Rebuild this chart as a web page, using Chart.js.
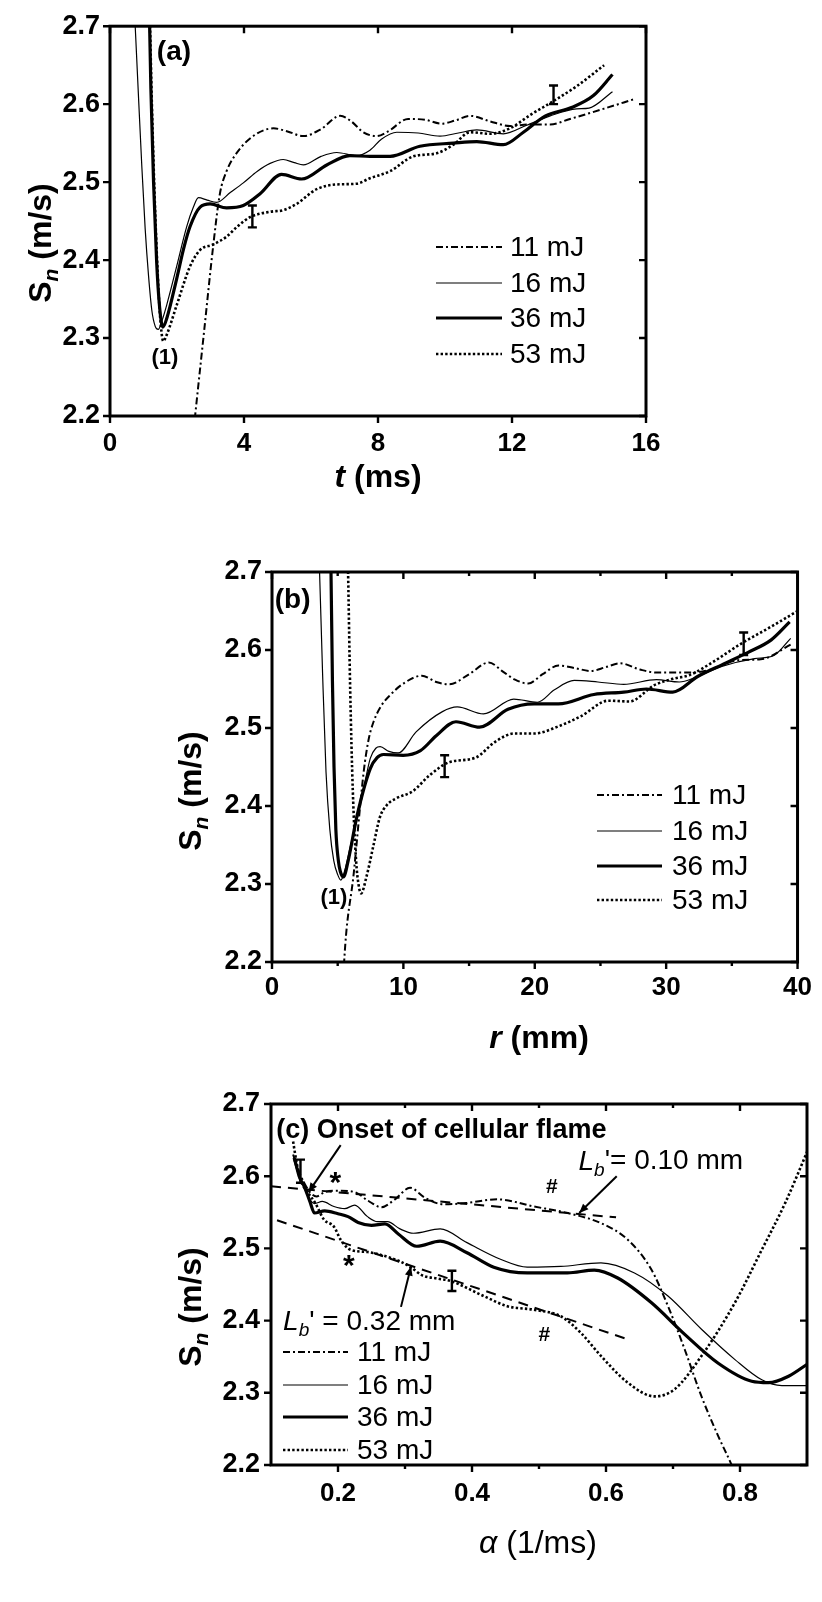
<!DOCTYPE html>
<html><head><meta charset="utf-8">
<script src="https://cdn.jsdelivr.net/npm/chart.js@4.4.1/dist/chart.umd.min.js"></script>
<style>
html,body{margin:0;padding:0;background:#fff;}
#wrap{position:relative;width:822px;height:1602px;background:#fff;}
canvas{position:absolute;left:0;}
</style></head><body>
<div id="wrap">
<canvas id="ca" width="822" height="510" style="top:0px"></canvas>
<canvas id="cb" width="822" height="560" style="top:510px"></canvas>
<canvas id="cc" width="822" height="532" style="top:1070px"></canvas>
</div>
<script>
// ---------- DATA ----------
const seriesNames = ['11 mJ', '16 mJ', '36 mJ', '53 mJ'];
const yTickVals = [2.2, 2.3, 2.4, 2.5, 2.6, 2.7];

// (a) S_n vs t (ms)
const xTicksA = [0, 4, 8, 12, 16];
const a11 = [[2.3,2.10],[2.54,2.2],[2.8,2.305],[3.08,2.418],[3.28,2.485],[3.48,2.514],[3.68,2.531],[4.18,2.556],[4.88,2.569],[5.3,2.565],[5.77,2.559],[6.3,2.568],[6.87,2.585],[7.2,2.578],[7.56,2.564],[7.96,2.559],[8.3,2.565],[8.9,2.581],[9.4,2.580],[9.9,2.575],[10.3,2.579],[10.75,2.585],[11.34,2.578],[11.94,2.572],[12.54,2.574],[13.14,2.574],[13.73,2.581],[14.73,2.594],[15.62,2.606]];
const a16 = [[0.72,2.73],[0.85,2.61],[0.95,2.52],[1.05,2.44],[1.15,2.38],[1.25,2.335],[1.35,2.315],[1.44,2.311],[1.55,2.322],[1.69,2.342],[1.99,2.392],[2.29,2.443],[2.49,2.468],[2.64,2.480],[2.9,2.477],[3.18,2.474],[3.6,2.487],[3.98,2.499],[4.4,2.514],[4.78,2.524],[5.17,2.529],[5.5,2.525],[5.77,2.522],[6.3,2.533],[6.77,2.538],[7.36,2.534],[7.76,2.541],[8.1,2.555],[8.56,2.564],[9.2,2.563],[9.85,2.559],[10.4,2.563],[10.95,2.567],[11.74,2.562],[12.44,2.573],[13.14,2.585],[13.93,2.594],[14.3,2.595],[15.0,2.616]];
const a36 = [[1.17,2.73],[1.22,2.62],[1.3,2.50],[1.39,2.40],[1.48,2.34],[1.58,2.314],[1.7,2.326],[1.99,2.376],[2.2,2.415],[2.39,2.443],[2.69,2.468],[2.99,2.472],[3.48,2.467],[3.98,2.470],[4.48,2.485],[5.12,2.510],[5.72,2.504],[6.47,2.522],[7.16,2.534],[7.76,2.533],[8.36,2.533],[9.25,2.546],[10.25,2.550],[10.95,2.552],[11.74,2.548],[12.34,2.564],[13.0,2.585],[13.8,2.596],[14.43,2.611],[15.0,2.638]];
const a53 = [[1.18,2.73],[1.25,2.60],[1.35,2.46],[1.45,2.36],[1.52,2.315],[1.59,2.296],[1.7,2.305],[1.99,2.342],[2.39,2.392],[2.69,2.413],[3.08,2.420],[3.48,2.430],[3.8,2.443],[4.18,2.455],[4.78,2.462],[5.17,2.464],[5.57,2.472],[6.17,2.491],[6.77,2.497],[7.36,2.498],[7.76,2.505],[8.36,2.514],[9.05,2.533],[9.75,2.537],[10.25,2.548],[10.75,2.564],[11.34,2.562],[11.94,2.569],[12.54,2.586],[13.24,2.604],[13.93,2.623],[14.75,2.650]];
const errA = [[4.25,2.456,0.014],[13.24,2.612,0.012]];

// (b) S_n vs r (mm)
const xTicksB = [0, 10, 20, 30, 40];
const minorB = [5, 15, 25, 35];
const b11 = [[5.2,2.08],[5.49,2.2],[6.23,2.315],[6.98,2.444],[7.35,2.485],[7.73,2.508],[8.3,2.528],[8.98,2.542],[10.0,2.557],[11.4,2.567],[12.5,2.559],[13.5,2.556],[15.0,2.569],[16.5,2.584],[17.6,2.572],[18.5,2.562],[19.5,2.557],[20.6,2.569],[21.8,2.580],[23.0,2.577],[24.27,2.573],[25.4,2.578],[26.5,2.583],[28.0,2.575],[29.3,2.571],[32.0,2.571],[33.2,2.574],[35.5,2.587],[37.2,2.588],[39.5,2.607]];
const b16 = [[3.55,2.73],[3.62,2.70],[3.85,2.57],[4.11,2.444],[4.4,2.37],[4.7,2.33],[5.0,2.312],[5.24,2.305],[5.5,2.315],[5.99,2.350],[6.73,2.401],[7.48,2.461],[7.9,2.474],[8.23,2.476],[8.9,2.470],[9.6,2.468],[10.97,2.495],[12.97,2.521],[14.1,2.527],[16.1,2.518],[18.4,2.537],[20.2,2.533],[21.5,2.549],[23.0,2.561],[24.8,2.559],[26.77,2.556],[29.26,2.562],[31.0,2.559],[32.25,2.565],[34.24,2.579],[36.74,2.589],[38.2,2.593],[39.48,2.615]];
const b36 = [[4.45,2.73],[4.49,2.70],[4.6,2.56],[4.72,2.45],[4.86,2.37],[5.05,2.33],[5.2,2.316],[5.44,2.309],[5.8,2.33],[6.48,2.388],[7.48,2.448],[8.0,2.462],[8.48,2.466],[9.98,2.465],[11.3,2.471],[12.5,2.490],[14.0,2.508],[15.8,2.501],[17.96,2.524],[19.95,2.531],[21.8,2.531],[24.5,2.543],[26.77,2.546],[28.5,2.550],[30.5,2.546],[32.4,2.566],[34.24,2.581],[36.24,2.597],[38.0,2.613],[39.4,2.636]];
const b53 = [[5.75,2.73],[5.79,2.70],[5.95,2.55],[6.15,2.42],[6.4,2.33],[6.6,2.298],[6.78,2.288],[7.2,2.31],[7.73,2.350],[8.2,2.385],[8.73,2.401],[9.48,2.410],[10.72,2.419],[11.97,2.439],[13.47,2.456],[15.5,2.462],[16.96,2.482],[18.45,2.493],[20.0,2.493],[21.78,2.502],[23.5,2.515],[25.6,2.535],[27.2,2.534],[29.1,2.555],[30.5,2.563],[31.8,2.568],[33.6,2.585],[35.6,2.607],[38.0,2.630],[40.2,2.652]];
const errB = [[13.14,2.451,0.014],[35.9,2.608,0.0145]];

// (c) S_n vs alpha (1/ms)
const xTicksC = [0.2, 0.4, 0.6, 0.8];
const minorC = [0.3, 0.5, 0.7];
const c11 = [[0.133,2.63],[0.14,2.61],[0.15,2.59],[0.158,2.578],[0.168,2.572],[0.18,2.578],[0.20,2.580],[0.225,2.578],[0.245,2.566],[0.265,2.557],[0.285,2.568],[0.3075,2.584],[0.33,2.570],[0.3575,2.561],[0.3925,2.563],[0.4375,2.568],[0.4925,2.558],[0.5425,2.549],[0.5925,2.535],[0.6325,2.512],[0.6675,2.471],[0.6925,2.420],[0.7175,2.360],[0.7425,2.295],[0.7675,2.240],[0.7875,2.2],[0.80,2.17]];
const c16 = [[0.133,2.625],[0.14,2.605],[0.15,2.585],[0.158,2.568],[0.165,2.562],[0.1765,2.565],[0.194,2.558],[0.21,2.555],[0.225,2.560],[0.244,2.544],[0.259,2.537],[0.274,2.537],[0.2925,2.527],[0.3125,2.521],[0.3525,2.527],[0.3925,2.508],[0.4425,2.485],[0.4825,2.474],[0.5325,2.475],[0.5925,2.480],[0.6425,2.466],[0.6925,2.434],[0.7425,2.388],[0.7925,2.346],[0.8325,2.318],[0.8625,2.310],[0.9025,2.310]];
const c36 = [[0.135,2.625],[0.142,2.60],[0.15,2.585],[0.158,2.565],[0.165,2.549],[0.18,2.552],[0.20,2.548],[0.215,2.544],[0.23,2.536],[0.25,2.532],[0.27,2.534],[0.29,2.520],[0.3175,2.503],[0.3525,2.510],[0.3925,2.494],[0.4325,2.474],[0.4825,2.466],[0.5425,2.466],[0.5825,2.470],[0.6175,2.459],[0.6675,2.425],[0.7175,2.381],[0.7675,2.341],[0.8175,2.316],[0.8425,2.314],[0.8725,2.323],[0.9025,2.341]];
const c53 = [[0.133,2.648],[0.138,2.62],[0.144,2.595],[0.154,2.579],[0.1665,2.562],[0.179,2.540],[0.194,2.530],[0.204,2.512],[0.219,2.498],[0.244,2.495],[0.264,2.491],[0.2925,2.482],[0.31,2.473],[0.325,2.463],[0.35,2.458],[0.3675,2.455],[0.4175,2.434],[0.4525,2.420],[0.4925,2.415],[0.5325,2.406],[0.5625,2.383],[0.5925,2.351],[0.6325,2.314],[0.6725,2.295],[0.7025,2.305],[0.7425,2.351],[0.7925,2.425],[0.8325,2.498],[0.8675,2.563],[0.9025,2.639]];
const fitHigh = [[0.1,2.586],[0.615,2.543]];   // L_b' = 0.10 mm
const fitLow = [[0.109,2.539],[0.6325,2.374]]; // L_b' = 0.32 mm
const errC = [[0.144,2.607,0.016],[0.37,2.455,0.014]];

// ---------- STYLE ----------
const FF = '"Liberation Sans", Arial, Helvetica, sans-serif';
Chart.defaults.font.family = FF;
Chart.defaults.color = '#000';
const lineStyles = [
  {borderWidth: 2, borderDash: [7, 3, 2, 3]},
  {borderWidth: 1.2, borderDash: []},
  {borderWidth: 3.2, borderDash: []},
  {borderWidth: 2.6, borderDash: [2.4, 2.2]}
];

function toXY(arr){ return arr.map(p => ({x: p[0], y: p[1]})); }

function drawRich(ctx, x, y, segs, align){
  let w = 0;
  segs.forEach(s => { ctx.font = s.f + ' ' + FF; s.w = ctx.measureText(s.t).width; w += s.w; });
  let cx = align === 'center' ? x - w/2 : x;
  ctx.textAlign = 'left'; ctx.textBaseline = 'middle';
  segs.forEach(s => { ctx.font = s.f + ' ' + FF; ctx.fillText(s.t, cx, y + (s.dy||0)); cx += s.w; });
}

const deco = {
  id: 'deco',
  afterDatasetsDraw(chart, args, o){
    const ctx = chart.ctx, xs = chart.scales.x, ys = chart.scales.y;
    ctx.save();
    ctx.strokeStyle = '#000'; ctx.lineWidth = 2.4; ctx.setLineDash([]);
    (o.errors || []).forEach(e => {
      const px = xs.getPixelForValue(e[0]);
      const y1 = ys.getPixelForValue(e[1] + e[2]), y2 = ys.getPixelForValue(e[1] - e[2]);
      ctx.beginPath();
      ctx.moveTo(px, y1); ctx.lineTo(px, y2);
      ctx.moveTo(px - 4.5, y1); ctx.lineTo(px + 4.5, y1);
      ctx.moveTo(px - 4.5, y2); ctx.lineTo(px + 4.5, y2);
      ctx.stroke();
    });
    ctx.restore();
  },
  afterDraw(chart, args, o){
    const ctx = chart.ctx, ca = chart.chartArea, xs = chart.scales.x, ys = chart.scales.y;
    ctx.save();
    ctx.fillStyle = '#000'; ctx.strokeStyle = '#000'; ctx.setLineDash([]);
    // frame
    ctx.lineWidth = 3;
    ctx.strokeRect(ca.left, ca.top, ca.right - ca.left, ca.bottom - ca.top);
    // ticks
    ctx.lineWidth = 2.4;
    ctx.beginPath();
    xs.ticks.forEach(t => {
      const p = xs.getPixelForValue(t.value);
      ctx.moveTo(p, ca.bottom); ctx.lineTo(p, ca.bottom + 7);
      ctx.moveTo(p, ca.top); ctx.lineTo(p, ca.top + 7);
    });
    (o.minorX || []).forEach(v => {
      const p = xs.getPixelForValue(v);
      ctx.moveTo(p, ca.bottom); ctx.lineTo(p, ca.bottom + 4);
      ctx.moveTo(p, ca.top); ctx.lineTo(p, ca.top + 4);
    });
    ys.ticks.forEach(t => {
      const p = ys.getPixelForValue(t.value);
      ctx.moveTo(ca.left - 7, p); ctx.lineTo(ca.left, p);
      ctx.moveTo(ca.right, p); ctx.lineTo(ca.right - 7, p);
    });
    ctx.stroke();
    // legend
    const L = o.legend;
    chart.data.datasets.slice(0, 4).forEach((ds, i) => {
      const y = L.ys[i];
      ctx.save();
      ctx.lineWidth = ds.borderWidth; ctx.setLineDash(ds.borderDash || []);
      ctx.beginPath(); ctx.moveTo(L.x1, y); ctx.lineTo(L.x2, y); ctx.stroke();
      ctx.restore();
      ctx.font = '28px ' + FF; ctx.textAlign = 'left'; ctx.textBaseline = 'middle';
      ctx.fillText(ds.label, L.tx, y + 1);
    });
    // annotations
    (o.notes || []).forEach(n => {
      if (n.arrow){
        const x1 = xs.getPixelForValue(n.from[0]), y1 = ys.getPixelForValue(n.from[1]);
        const x2 = xs.getPixelForValue(n.to[0]), y2 = ys.getPixelForValue(n.to[1]);
        ctx.lineWidth = 2; ctx.beginPath(); ctx.moveTo(x1, y1); ctx.lineTo(x2, y2); ctx.stroke();
        const a = Math.atan2(y2 - y1, x2 - x1), h = 10;
        ctx.beginPath();
        ctx.moveTo(x2, y2);
        ctx.lineTo(x2 - h*Math.cos(a - 0.4), y2 - h*Math.sin(a - 0.4));
        ctx.lineTo(x2 - h*Math.cos(a + 0.4), y2 - h*Math.sin(a + 0.4));
        ctx.closePath(); ctx.fill();
      } else {
        drawRich(ctx, xs.getPixelForValue(n.at[0]), ys.getPixelForValue(n.at[1]), n.segs, n.align || 'center');
      }
    });
    // x-axis title
    const T = o.titles;
    drawRich(ctx, T.xx, T.xy, T.xsegs, 'center');
    // rotated y-axis title, centred on (yx baseline, yc)
    ctx.save();
    ctx.translate(T.yx, T.yc); ctx.rotate(-Math.PI/2);
    const segs = [{t: 'S', f: 'bold 32px', dy: 0}, {t: 'n', f: 'italic bold 21px', dy: 7}, {t: ' (m/s)', f: 'bold 32px', dy: 0}];
    let tw = 0;
    segs.forEach(s => { ctx.font = s.f + ' ' + FF; s.w = ctx.measureText(s.t).width; tw += s.w; });
    let cx = -tw / 2;
    ctx.textAlign = 'left'; ctx.textBaseline = 'alphabetic';
    segs.forEach(s => { ctx.font = s.f + ' ' + FF; ctx.fillText(s.t, cx, s.dy); cx += s.w; });
    ctx.restore();
    ctx.restore();
  }
};
Chart.register(deco);

function makeChart(id, p){
  const ds = p.series.map((s, i) => Object.assign({
    label: seriesNames[i], data: toXY(s), borderColor: '#000', backgroundColor: '#000',
    pointRadius: 0, fill: false, cubicInterpolationMode: 'monotone', clip: 0,
    borderCapStyle: 'butt', borderJoinStyle: 'round'
  }, lineStyles[i]));
  (p.fits || []).forEach(f => ds.push({
    label: 'fit', data: toXY(f), borderColor: '#000', borderWidth: 2, borderDash: [10, 7],
    pointRadius: 0, fill: false, tension: 0, clip: 0
  }));
  return new Chart(document.getElementById(id), {
    type: 'line',
    data: {datasets: ds},
    options: {
      responsive: false, animation: false, devicePixelRatio: 1,
      layout: {padding: {top: p.top, right: p.right, left: 0, bottom: 0}},
      plugins: {legend: {display: false}, tooltip: {enabled: false},
        deco: {errors: p.errors, minorX: p.minorX, legend: p.legend, notes: p.notes, titles: p.titles}},
      scales: {
        x: {type: 'linear', min: p.xmin, max: p.xmax,
          afterBuildTicks: s => { s.ticks = p.xTicks.map(v => ({value: v})); },
          afterFit: s => { s.height = p.xh; },
          grid: {display: false, drawTicks: false}, border: {display: false},
          ticks: {autoSkip: false, maxRotation: 0, padding: p.xpad, color: '#000',
            font: {size: 26, weight: 'bold', family: FF}, callback: p.xfmt}},
        y: {type: 'linear', min: 2.2, max: 2.7,
          afterBuildTicks: s => { s.ticks = yTickVals.map(v => ({value: v})); },
          afterFit: s => { s.width = p.yw; },
          grid: {display: false, drawTicks: false}, border: {display: false},
          ticks: {autoSkip: false, padding: p.ypad, color: '#000',
            font: {size: 27, weight: 'bold', family: FF}, callback: v => v.toFixed(1)}}
      }
    }
  });
}

makeChart('ca', {
  series: [a11, a16, a36, a53], errors: errA, xTicks: xTicksA, xmin: 0, xmax: 16,
  top: 19, right: 176, yw: 110, xh: 94, xpad: 12, ypad: 10, xfmt: v => String(v),
  legend: {x1: 436, x2: 502, tx: 510, ys: [247, 283, 318, 354]},
  notes: [
    {at: [1.91, 2.666], segs: [{t: '(a)', f: 'bold 28px'}]},
    {at: [1.64, 2.274], segs: [{t: '(1)', f: 'bold 22px'}]}
  ],
  titles: {yx: 51, yc: 243, xx: 378, xy: 478,
    xsegs: [{t: 't', f: 'italic bold 32px'}, {t: ' (ms)', f: 'bold 32px'}]}
});

makeChart('cb', {
  series: [b11, b16, b36, b53], errors: errB, xTicks: xTicksB, minorX: minorB, xmin: 0, xmax: 40,
  top: 62, right: 15, yw: 272, xh: 108, xpad: 10, ypad: 10, xfmt: v => String(v),
  legend: {x1: 597, x2: 662, tx: 672, ys: [285, 321, 356, 390]},
  notes: [
    {at: [1.57, 2.664], segs: [{t: '(b)', f: 'bold 28px'}]},
    {at: [4.71, 2.282], segs: [{t: '(1)', f: 'bold 22px'}]}
  ],
  titles: {yx: 201, yc: 281, xx: 539, xy: 529,
    xsegs: [{t: 'r', f: 'italic bold 32px'}, {t: ' (mm)', f: 'bold 32px'}]}
});

makeChart('cc', {
  series: [c11, c16, c36, c53], fits: [fitHigh, fitLow], errors: errC, xTicks: xTicksC, minorX: minorC,
  xmin: 0.1, xmax: 0.9, top: 34, right: 15, yw: 271, xh: 137, xpad: 13, ypad: 11, xfmt: v => v.toFixed(1),
  legend: {x1: 283, x2: 348, tx: 357, ys: [282, 315, 347, 380]},
  notes: [
    {at: [0.108, 2.663], align: 'left', segs: [{t: '(c) Onset of cellular flame', f: 'bold 27px'}]},
    {arrow: true, from: [0.204, 2.643], to: [0.156, 2.578]},
    {at: [0.559, 2.620], align: 'left', segs: [{t: 'L', f: 'italic 28px'}, {t: 'b', f: 'italic 19px', dy: 9}, {t: "'= 0.10 mm", f: '28px'}]},
    {arrow: true, from: [0.616, 2.600], to: [0.560, 2.549]},
    {at: [0.118, 2.398], align: 'left', segs: [{t: 'L', f: 'italic 28px'}, {t: 'b', f: 'italic 19px', dy: 9}, {t: "' = 0.32 mm", f: '28px'}]},
    {arrow: true, from: [0.294, 2.419], to: [0.309, 2.475]},
    {at: [0.196, 2.590], segs: [{t: '*', f: 'bold 30px'}]},
    {at: [0.216, 2.475], segs: [{t: '*', f: 'bold 30px'}]},
    {at: [0.519, 2.585], segs: [{t: '#', f: 'bold 21px'}]},
    {at: [0.508, 2.380], segs: [{t: '#', f: 'bold 21px'}]}
  ],
  titles: {yx: 201, yc: 237, xx: 538, xy: 474,
    xsegs: [{t: '\u03b1', f: 'italic 32px'}, {t: ' (1/ms)', f: '32px'}]}
});
</script>
</body></html>
